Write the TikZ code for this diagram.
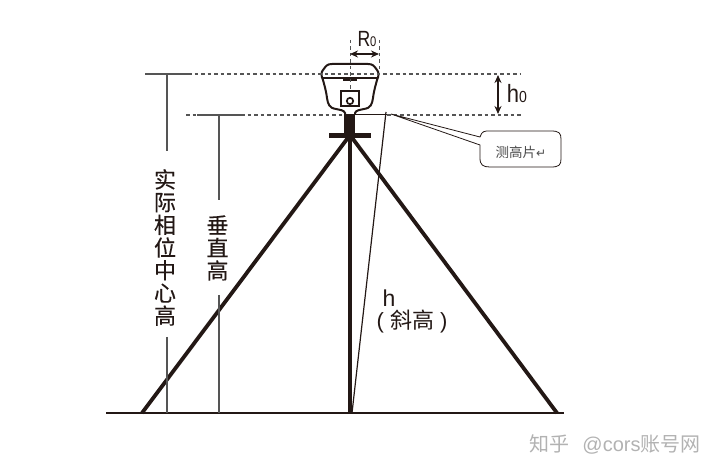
\documentclass[tikz,border=0pt]{standalone}
\usepackage{fontspec}
\setmainfont{Liberation Sans}
\newfontfamily\cjk[FakeBold=0.25]{Noto Sans CJK SC}
\newfontfamily\cjkthin{Noto Sans CJK SC}
\newfontfamily\symb{DejaVu Sans}
\usetikzlibrary{arrows.meta}
\definecolor{inkblack}{HTML}{231815}
\definecolor{markgray}{HTML}{555555}
\tikzset{
  dimline/.style={draw=markgray,line width=1.5pt},
  dashline/.style={draw=markgray,line width=1.2pt,dash pattern=on 3.5pt off 3pt},
  legline/.style={draw=inkblack,line width=3.8pt},
  vtext/.style={font=\cjk\fontsize{22}{22.7}\selectfont,align=center,text=inkblack,inner sep=0pt},
  marktext/.style={text=black!30,inner sep=0pt}
}
\begin{document}
\begin{tikzpicture}[x=1pt,y=-1pt,>={Stealth[length=8pt,width=7pt]}]
                      \useasboundingbox (0,0) rectangle (721,473);
                      \coordinate (apex) at (350,135);
                      \coordinate (footL) at (142,413);
                      \coordinate (footR) at (557,413);
                      \coordinate (footC) at (350,413);
                      \coordinate (groundL) at (106,413);
                      \coordinate (groundR) at (564,413);
                      \coordinate (plateL) at (345,115);
                      \coordinate (plateR) at (387,115);
                      \coordinate (slantT) at (386,112);
                      \coordinate (slantB) at (352,413);
                      % tripod
                      \draw[legline,line width=2.8pt] (groundL) -- (groundR);
                      \draw[legline] (apex) -- (footL);
                      \draw[legline] (apex) -- (footR);
                      \draw[legline,line width=4.4pt] (apex) -- (footC);
                      \draw[draw=inkblack,line width=1.2pt] (slantT) -- (slantB);
                      \fill[inkblack] (344,115) rectangle (355,135);
                      \fill[inkblack] (329,133) rectangle (371,138);
                      % receiver
                      \draw[inkblack,line width=2pt,fill=white] (345,115) -- (345,113) .. controls (344,110) and (340,110) .. (336,109)
                          .. controls (329,108) and (328,104) .. (327,98) .. controls (326,90) and (324,84) .. (323,80)
                          .. controls (321,76) and (321,72) .. (323,70) .. controls (326,66) and (327,64) .. (332,64)
                          -- (368,64) .. controls (373,64) and (374,66) .. (377,70) .. controls (379,72) and (379,76) .. (377,80)
                          .. controls (376,84) and (374,90) .. (373,98) .. controls (372,104) and (371,108) .. (364,109)
                          .. controls (360,110) and (356,110) .. (355,113) -- (355,115);
                      \draw[inkblack,line width=1.7pt] (322,78) -- (378,78);
                      \fill[inkblack] (343,78) rectangle (357,81);
                      \draw[inkblack,line width=1.7pt] (341,91) rectangle (359,106);
                      \draw[inkblack,line width=1.7pt] (350,101) circle [radius=3.2];
                      % measuring lines
                      \coordinate (topA) at (145,74);
                      \coordinate (topB) at (188,74);
                      \coordinate (topC) at (167,74);
                      \coordinate (topD) at (521,74);
                      \coordinate (lowA) at (197,115);
                      \coordinate (lowB) at (241,115);
                      \coordinate (lowC) at (219,115);
                      \coordinate (lowD) at (521,115);
                      \coordinate (lowE) at (186,115);
                      \coordinate (phaseA) at (167,151);
                      \coordinate (phaseB) at (167,337);
                      \coordinate (phaseC) at (167,413);
                      \coordinate (vertA) at (219,200);
                      \coordinate (vertB) at (219,295);
                      \coordinate (vertC) at (219,413);
                      \draw[dashline] (topB) -- (topD);
                      \draw[dashline] (lowE) -- (lowA);
                      \draw[dashline] (lowB) -- (plateL);
                      \draw[dashline] (plateR) -- (lowD);
                      \draw[draw=inkblack,line width=1pt] (plateL) -- (plateR);
                      \draw[dimline] (topA) -- (topB);
                      \draw[dimline] (lowA) -- (lowB);
                      \node[vtext] (phase) at (165,247.5) {实\\际\\相\\位\\中\\心\\高};
                      \node[vtext] (vert) at (217.5,248) {垂\\直\\高};
                      \draw[dimline] (topC) -- (phaseA);
                      \draw[dimline] (phaseB) -- (phaseC);
                      \draw[dimline] (lowC) -- (vertA);
                      \draw[dimline] (vertB) -- (vertC);
                      % R0 and h0
                      \coordinate (rA) at (350,40);
                      \coordinate (rB) at (379,40);
                      \coordinate (rC) at (350,90);
                      \coordinate (rD) at (379,70);
                      \coordinate (rE) at (350,54);
                      \coordinate (rF) at (379,54);
                      \coordinate (hA) at (498,75);
                      \coordinate (hB) at (498,114);
                      \draw[dashline,line width=1pt] (rA) -- (rC);
                      \draw[dashline,line width=1pt] (rB) -- (rD);
                      \draw[<->,inkblack,line width=1.4pt] (rE) -- (rF);
                      \draw[<->,inkblack,line width=1.6pt] (hA) -- (hB);
                      \node[inner sep=0pt,text=inkblack,xscale=0.8] (r0) at (367,39.5) {\fontsize{22}{22}\selectfont R\fontsize{14}{14}\selectfont 0};
                      \node[inner sep=0pt,text=inkblack,xscale=0.88] (h0) at (517,94) {\fontsize{25}{25}\selectfont h\fontsize{16}{16}\selectfont 0};
                      % callout
                      \coordinate (tip) at (391,114);
                      \draw[inkblack,line width=0.8pt,fill=white] (tip) -- (480,137) .. controls (482,131) and (484,131) .. (490,131) -- (551,131)
                          .. controls (559,131) and (561,133) .. (561,139) -- (561,159) .. controls (561,165) and (559,167) .. (551,167)
                          -- (490,167) .. controls (483,167) and (480,165) .. (480,158) -- (480,145) -- cycle;
                      \node[inner sep=0pt,text=black!70] (plate) at (521,152) {\cjkthin\fontsize{13.5}{14}\selectfont 测高片\symb\fontsize{12}{12}\selectfont ↵};
                      % slant height
                      \node[inner sep=0pt,text=inkblack] (h) at (389,298.5) {\fontsize{23}{23}\selectfont h};
                      \node[inner sep=0pt,text=inkblack] (slant) at (412,322) {\fontsize{22}{22}\selectfont (\hspace{6pt}\cjkthin 斜高\rmfamily\hspace{6pt})};
                      \node[marktext] (mark) at (615,444) {\cjkthin\fontsize{20}{20}\selectfont 知乎\hspace{13pt}\rmfamily @cors\cjkthin 账号网};
                  \end{tikzpicture}
\end{document}
